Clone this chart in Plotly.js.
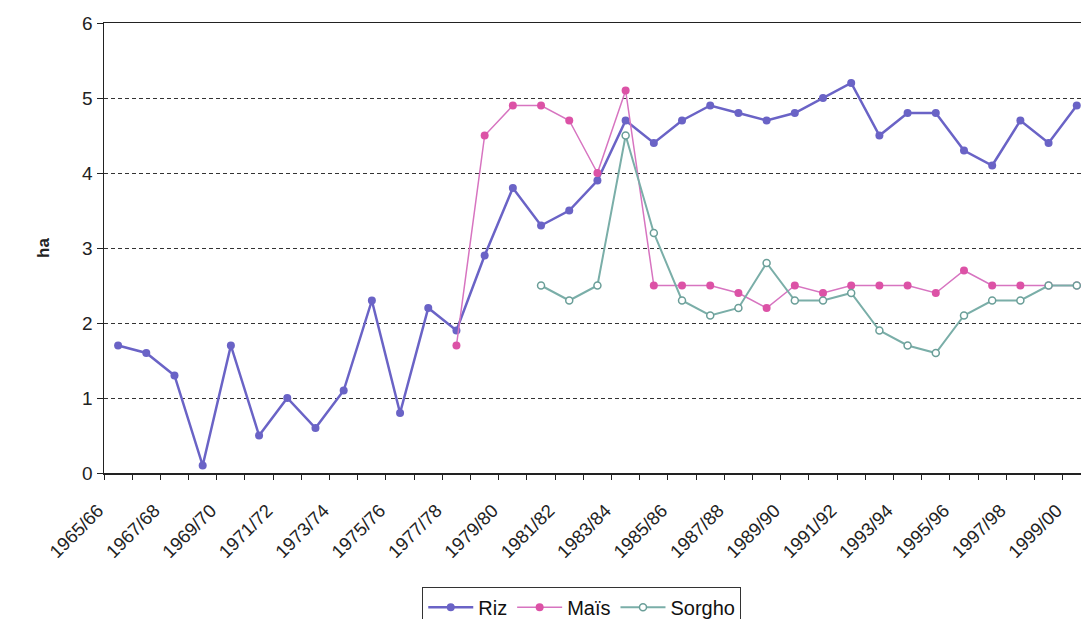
<!DOCTYPE html>
<html>
<head>
<meta charset="utf-8">
<script src="https://cdn.plot.ly/plotly-3.0.1.min.js"></script>
<style>html,body{margin:0;padding:0;background:#fff;}#chart{width:1081px;height:619px;}</style>
</head>
<body>
<div id="chart"></div>
<script>
const categories = ["1965/66","1966/67","1967/68","1968/69","1969/70","1970/71","1971/72","1972/73","1973/74","1974/75",
  "1975/76","1976/77","1977/78","1978/79","1979/80","1980/81","1981/82","1982/83","1983/84","1984/85",
  "1985/86","1986/87","1987/88","1988/89","1989/90","1990/91","1991/92","1992/93","1993/94","1994/95",
  "1995/96","1996/97","1997/98","1998/99","1999/00"];
const riz = [1.7,1.6,1.3,0.1,1.7,0.5,1.0,0.6,1.1,2.3,0.8,2.2,1.9,2.9,3.8,3.3,3.5,3.9,4.7,4.4,
  4.7,4.9,4.8,4.7,4.8,5.0,5.2,4.5,4.8,4.8,4.3,4.1,4.7,4.4,4.9];
const mais = [null,null,null,null,null,null,null,null,null,null,null,null,1.7,4.5,4.9,4.9,4.7,4.0,5.1,2.5,
  2.5,2.5,2.4,2.2,2.5,2.4,2.5,2.5,2.5,2.4,2.7,2.5,2.5,2.5,2.5];
const sorgho = [null,null,null,null,null,null,null,null,null,null,null,null,null,null,null,2.5,2.3,2.5,4.5,3.2,
  2.3,2.1,2.2,2.8,2.3,2.3,2.4,1.9,1.7,1.6,2.1,2.3,2.3,2.5,2.5];
const seriesNames = ["Riz","Maïs","Sorgho"];
const tickLabels = categories.map((c,i)=> i%2===0 ? c : "");

const traces = [
  {x: categories, y: riz, name: seriesNames[0], type:"scatter", mode:"lines+markers",
   line:{color:"#6a63c6", width:2.5}, marker:{color:"#6a63c6", size:8}},
  {x: categories, y: mais, name: seriesNames[1], type:"scatter", mode:"lines+markers",
   line:{color:"#d774c0", width:1.5}, marker:{color:"#dc52a6", size:8}},
  {x: categories, y: sorgho, name: seriesNames[2], type:"scatter", mode:"lines+markers",
   line:{color:"#7aaea8", width:2}, marker:{color:"#ffffff", size:7, line:{color:"#6a9e98", width:1.5}}}
];

const layout = {
  width:1081, height:619,
  margin:{l:104, r:0, t:23, b:146, autoexpand:false},
  paper_bgcolor:"#ffffff", plot_bgcolor:"#ffffff",
  font:{family:"Liberation Sans, Arial, sans-serif", color:"#222"},
  showlegend:true,
  legend:{orientation:"h", x:0.489, xanchor:"center", y:-0.253, yanchor:"top",
    bordercolor:"#333", borderwidth:1, font:{size:20, color:"#111"}, tracegroupgap:0, itemwidth:45},
  xaxis:{type:"category", range:[-0.5,34.15], tickvals:categories, ticktext:tickLabels,
    tickson:"boundaries", ticks:"outside", ticklen:5, tickcolor:"#222",
    tickangle:-45, tickfont:{size:18.5, color:"#222"}, ticklabelshift:-20, ticklabelstandoff:18,
    showline:true, linecolor:"#222", linewidth:1.5, mirror:true, showgrid:false, zeroline:false, fixedrange:true},
  yaxis:{range:[0,6], dtick:1, tick0:0, ticks:"outside", ticklen:6, tickcolor:"#222",
    tickfont:{size:19, color:"#222"}, showline:true, linecolor:"#222", linewidth:1.5,
    showgrid:true, gridcolor:"#333", gridwidth:1, griddash:"4px,3px", zeroline:false,
    title:{text:"<b>ha</b>", font:{size:17, color:"#222"}, standoff:28}}
};

Plotly.newPlot("chart", traces, layout, {displayModeBar:false, staticPlot:true});
</script>
</body>
</html>
